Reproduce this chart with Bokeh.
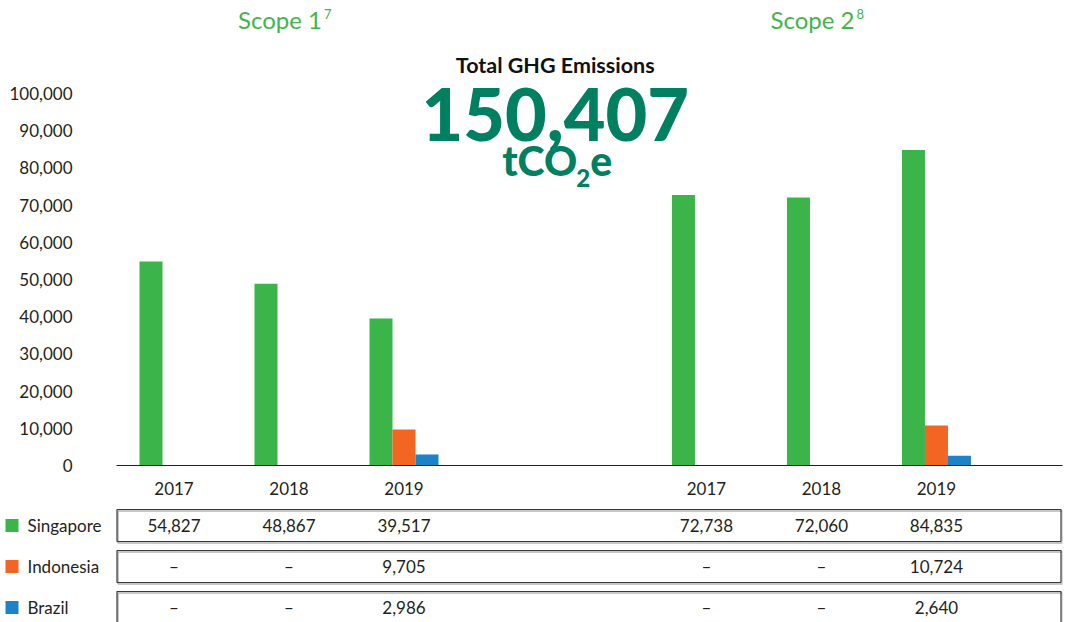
import numpy as np
from bokeh.plotting import figure
from bokeh.models import ColumnDataSource, Range1d, FixedTicker, NumeralTickFormatter
from bokeh.layouts import column
from bokeh.core.properties import value
from bokeh.transform import dodge
from bokeh.embed import file_html
from bokeh.resources import INLINE

# ---------------- data ----------------
years = ["2017", "2018", "2019"]
scopes = ["Scope 1", "Scope 2"]
scope_notes = ["7", "8"]
countries = ["Singapore", "Indonesia", "Brazil"]
colors = ["#3bb54a", "#f26522", "#1c83c6"]

scope1_singapore = [54827, 48867, 39517]
scope1_indonesia = [None, None, 9705]
scope1_brazil = [None, None, 2986]
scope2_singapore = [72738, 72060, 84835]
scope2_indonesia = [None, None, 10724]
scope2_brazil = [None, None, 2640]

y_ticks = [0, 10000, 20000, 30000, 40000, 50000, 60000, 70000, 80000, 90000, 100000]
total_title = "Total GHG Emissions"
unit_parts = ["tCO", "2", "e"]

series = {
    "Singapore": scope1_singapore + scope2_singapore,
    "Indonesia": scope1_indonesia + scope2_indonesia,
    "Brazil": scope1_brazil + scope2_brazil,
}
# total of the latest year (2019) across both scopes
total = sum(v[2] for v in (scope1_singapore, scope1_indonesia, scope1_brazil,
                           scope2_singapore, scope2_indonesia, scope2_brazil))

# ---------------- layout constants ----------------
W = 1065
PX = 115.0            # pixels per year group
FRAME_L = 116         # left border of the chart
FRAME_R = 3
SCOPE_SHIFT = 4.63    # group offset of the second scope block
BAR_W = 0.2
TXT = "#231f20"
DARK_GREEN = "#008061"
LIGHT_GREEN = "#3fb54b"
FONT = value("Lato")

centers = [round(s * SCOPE_SHIFT + i + 0.5, 3) for s in range(len(scopes)) for i in range(len(years))]
labels = {c: years[k % len(years)] for k, c in enumerate(centers)}
x_end = (W - FRAME_L - FRAME_R) / PX

BASE = 465            # pixel row of the zero line
HA = BASE + 40
Y_PER_PX = 100000 / 372.0
y_top = BASE * Y_PER_PX


def yd(page_y):
    return (BASE - page_y) * Y_PER_PX


def no_align(p):
    if "frame_align" in p.properties():
        p.frame_align = False


# ---------------- chart ----------------
pA = figure(width=W, height=HA, x_range=Range1d(0, x_end), y_range=Range1d(0, y_top),
            output_backend="svg", toolbar_location=None,
            min_border_left=FRAME_L, min_border_right=FRAME_R, min_border_top=0, min_border_bottom=40)
no_align(pA)
pA.outline_line_color = None
pA.grid.visible = False
pA.background_fill_color = "white"
pA.border_fill_color = "white"

xa = pA.xaxis[0]
xa.ticker = FixedTicker(ticks=centers)
xa.major_label_overrides = labels
xa.axis_line_color = TXT
xa.axis_line_width = 1.2
xa.major_tick_line_color = None
xa.minor_tick_line_color = None
xa.major_tick_out = 0
xa.major_tick_in = 0
xa.major_label_standoff = 16
xa.major_label_text_font = "Lato"
xa.major_label_text_font_size = "17px"
xa.major_label_text_color = TXT

ya = pA.yaxis[0]
ya.ticker = FixedTicker(ticks=y_ticks)
ya.formatter = NumeralTickFormatter(format="0,0")
ya.axis_line_color = None
ya.major_tick_line_color = None
ya.minor_tick_line_color = None
ya.major_tick_out = 0
ya.major_tick_in = 0
ya.major_label_standoff = 44
ya.major_label_text_font = "Lato"
ya.major_label_text_font_size = "17px"
ya.major_label_text_color = TXT

src = ColumnDataSource(dict(
    x=centers,
    **{c: np.array([np.nan if v is None else v for v in series[c]], dtype=float) for c in countries}
))
for k, (c, col) in enumerate(zip(countries, colors)):
    pA.vbar(x=dodge("x", (k - 1) * BAR_W, range=pA.x_range), top=c, width=BAR_W,
            source=src, fill_color=col, line_color=None)

# scope titles (over the middle year of each block)
mid_cols = [centers[s * len(years) + 1] for s in range(len(scopes))]
pA.text(x=mid_cols, y=[yd(19)] * 2, text=scopes, x_offset=33, text_align="right",
        text_baseline="middle", text_font=FONT, text_font_size="24px", text_color=LIGHT_GREEN)
pA.text(x=mid_cols, y=[yd(13)] * 2, text=scope_notes, x_offset=35, text_align="left",
        text_baseline="middle", text_font=FONT, text_font_size="13px", text_color=LIGHT_GREEN)

mid_x = (centers[len(years) - 1] + centers[len(years)]) / 2
pA.text(x=[mid_x], y=[yd(64)], text=[total_title], text_align="center", text_baseline="middle",
        text_font=FONT, text_font_size="21.5px", text_font_style="bold", text_color="#111111")
pA.text(x=[mid_x], y=[yd(114)], text=[f"{total:,}"], text_align="center", text_baseline="middle",
        text_font=value("Lato Black"), text_font_size="72px", text_font_style="bold", text_color=DARK_GREEN)
pA.text(x=[mid_x], y=[yd(160)], text=[unit_parts[0]], x_offset=22, text_align="right",
        text_baseline="middle", text_font=value("Lato Black"), text_font_size="41px",
        text_font_style="bold", text_color=DARK_GREEN)
pA.text(x=[mid_x], y=[yd(177)], text=[unit_parts[1]], x_offset=28, text_align="center",
        text_baseline="middle", text_font=value("Lato Black"), text_font_size="24px",
        text_font_style="bold", text_color=DARK_GREEN)
pA.text(x=[mid_x], y=[yd(160)], text=[unit_parts[2]], x_offset=35, text_align="left",
        text_baseline="middle", text_font=value("Lato Black"), text_font_size="41px",
        text_font_style="bold", text_color=DARK_GREEN)

# ---------------- table (its frame spans the full width, same x scale) ----------------
HB = 622 - HA
ROW = 41.0
FIRST = 20.0
pB = figure(width=W, height=HB, x_range=Range1d(-FRAME_L / PX, x_end),
            y_range=Range1d((HB - FIRST) / ROW, -FIRST / ROW),
            output_backend="svg", toolbar_location=None,
            x_axis_location=None, y_axis_location=None,
            min_border_left=0, min_border_right=FRAME_R, min_border_top=0, min_border_bottom=0)
no_align(pB)
pB.outline_line_color = None
pB.grid.visible = False
pB.background_fill_color = "white"
pB.border_fill_color = "white"

rows = list(range(len(countries)))
box_r = (W - FRAME_L - FRAME_R - 1.5) / PX
half = 16 / ROW
sx, sy = 1.5 / PX, 1.5 / ROW
pB.quad(left=[sx] * 3, right=[box_r + sx] * 3, top=[r - half + sy for r in rows],
        bottom=[r + half + sy for r in rows], fill_color=None, line_color="#b5b5b5", line_width=1.5)
pB.quad(left=[0.5 / PX] * 3, right=[box_r] * 3, top=[r - half for r in rows],
        bottom=[r + half for r in rows], fill_color=None, line_color="#3a3a3a", line_width=1.2)

# legend in the left margin of the table
pB.scatter(x=[(11.5 - FRAME_L) / PX] * 3, y=rows, marker="square", size=13,
           fill_color=colors, line_color=None)
pB.text(x=[(27 - FRAME_L) / PX] * 3, y=rows, text=countries, text_align="left",
        text_baseline="middle", text_font=FONT, text_font_size="17px", text_color=TXT)

tx, ty, tt = [], [], []
for r, c in enumerate(countries):
    for j, v in enumerate(series[c]):
        tx.append(centers[j])
        ty.append(r)
        tt.append("\u2013" if v is None else f"{v:,}")
pB.text(x=tx, y=ty, text=tt, text_align="center", text_baseline="middle",
        text_font=FONT, text_font_size="17px", text_color=TXT)

layout = column(pA, pB, spacing=0)
open("out.html", "w").write(file_html(layout, INLINE))
